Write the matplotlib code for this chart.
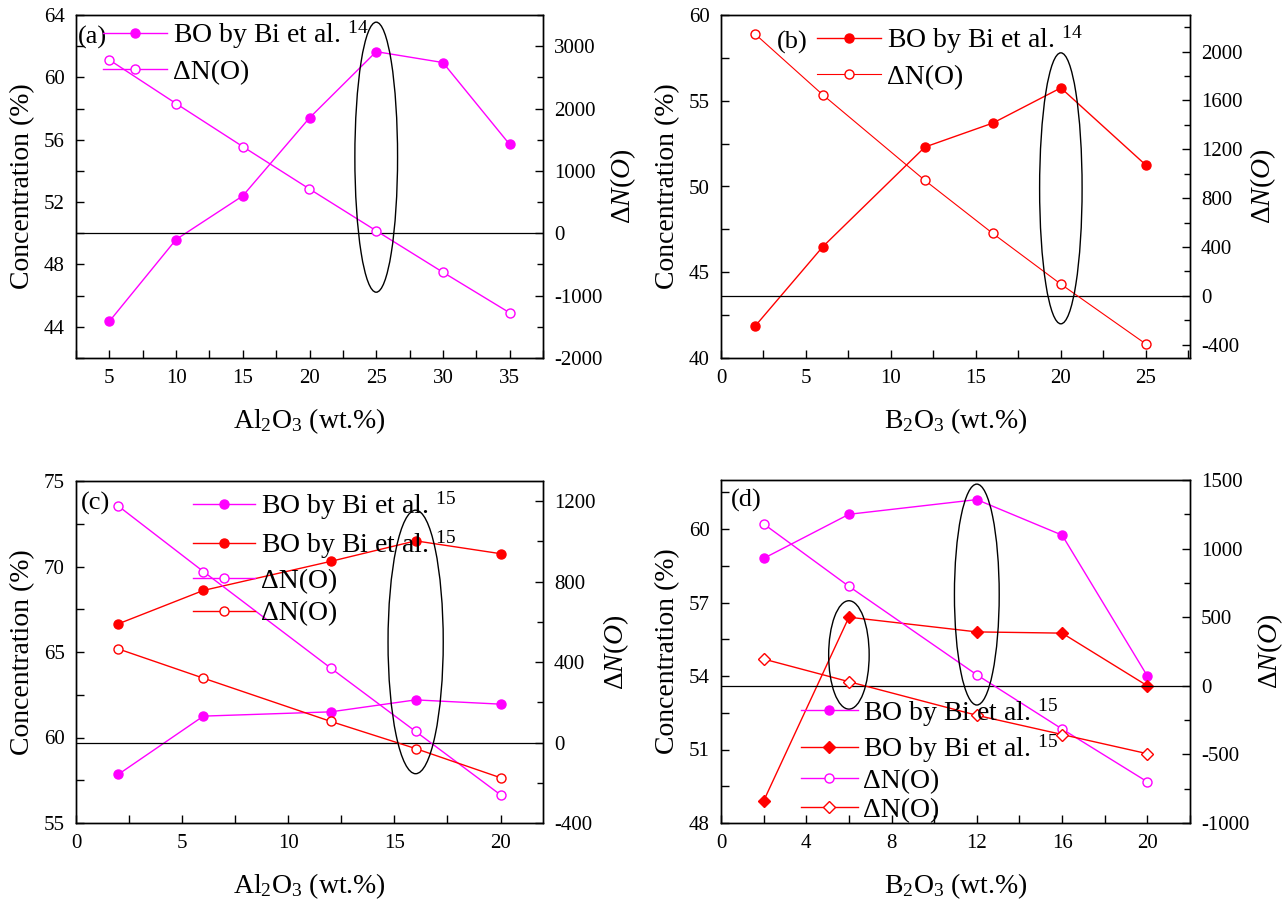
import numpy as np
import matplotlib
matplotlib.use('Agg')
import matplotlib.pyplot as plt
from matplotlib.patches import Ellipse
from matplotlib.ticker import MultipleLocator

plt.rcParams['font.family'] = ['Liberation Serif', 'DejaVu Serif']
plt.rcParams['mathtext.fontset'] = 'custom'
plt.rcParams['mathtext.rm'] = 'Liberation Serif'
plt.rcParams['mathtext.it'] = 'Liberation Serif:italic'
plt.rcParams['axes.unicode_minus'] = False

MAG = '#FF00FF'
RED = '#FF0000'

# (a) Al2O3 series, ref 14
a_x = [5, 10, 15, 20, 25, 30, 35]
a_bo = [44.35, 49.6, 52.4, 57.4, 61.65, 60.95, 55.7]
a_dn = [2780, 2080, 1390, 710, 40, -625, -1275]

# (b) B2O3 series, ref 14
b_x = [2, 6, 12, 16, 20, 25]
b_bo = [41.85, 46.5, 52.3, 53.7, 55.75, 51.25]
b_dn = [2145, 1645, 945, 510, 95, -395]

# (c) Al2O3 series, ref 15
c_x = [2, 6, 12, 16, 20]
c_bo_m = [57.85, 61.25, 61.5, 62.2, 61.95]
c_bo_r = [66.65, 68.6, 70.3, 71.5, 70.75]
c_dn_m = [1175, 850, 370, 55, -260]
c_dn_r = [465, 320, 105, -30, -175]

# (d) B2O3 series, ref 15
d_x = [2, 6, 12, 16, 20]
d_bo_m = [58.8, 60.6, 61.2, 59.75, 54.0]
d_bo_r = [48.9, 56.4, 55.8, 55.75, 53.6]
d_dn_m = [1180, 725, 80, -315, -700]
d_dn_r = [195, 30, -215, -355, -495]

# ellipses: (x centre, dN centre, x width, dN height)
a_ell = [(25, 1220, 3.2, 4330)]
b_ell = [(20, 880, 2.5, 2220)]
c_ell = [(16, 500, 2.6, 1310)]
d_ell = [(6, 225, 1.9, 790), (12, 665, 2.1, 1610)]

FS_TICK = 15
FS_LAB = 20

fig = plt.figure(figsize=(12.88, 9.02), dpi=100)
W, H = 1288, 902


def make_axes(x0, y0, x1, y1):
    ax = fig.add_axes([x0 / W, 1 - y1 / H, (x1 - x0) / W, (y1 - y0) / H])
    ax2 = ax.twinx()
    for a in (ax, ax2):
        for s in a.spines.values():
            s.set_linewidth(1.0)
    ax.tick_params(axis='both', which='both', direction='in', length=6, width=1,
                   labelsize=FS_TICK, pad=8, top=False, right=False)
    ax2.tick_params(axis='y', which='both', direction='in', length=6, width=1,
                    labelsize=FS_TICK, pad=8)
    ax2.tick_params(axis='y', which='minor', length=4)
    ax.set_ylabel('Concentration (%)', fontsize=FS_LAB, labelpad=6)
    ax2.set_ylabel(r'$\Delta N(O)$', fontsize=FS_LAB, labelpad=4)
    return ax, ax2


def finish(ax, ax2, ells, label, lab_xy):
    ax2.axhline(0, color='black', lw=0.9, zorder=1)
    for cx, cy, w, h in ells:
        ax2.add_patch(Ellipse((cx, cy), w, h, fill=False, ec='black', lw=1.0, zorder=5))
    ax.text(lab_xy[0], lab_xy[1], label, transform=ax.transAxes, fontsize=19,
            va='center', ha='left')


def legend(ax, handles, labels, anchor, spacing, hl):
    ax.legend(handles, labels, loc='upper left', bbox_to_anchor=anchor, frameon=False,
              fontsize=FS_LAB, handlelength=hl, handletextpad=0.2, borderpad=0,
              borderaxespad=0, labelspacing=spacing, numpoints=1)


mk = dict(ms=6.5, lw=1.0)

# ---- (a)
ax, ax2 = make_axes(76, 15, 543, 358)
l1, = ax.plot(a_x, a_bo, '-o', color=MAG, mfc=MAG, mec=MAG, **mk)
l2, = ax2.plot(a_x, a_dn, '-o', color=MAG, mfc='white', mec=MAG, **mk)
ax.set_xlim(2.5, 37.5)
ax.set_ylim(42, 64)
ax2.set_ylim(-2000, 3500)
ax.xaxis.set_major_locator(MultipleLocator(5))
ax.xaxis.set_minor_locator(MultipleLocator(2.5))
ax.yaxis.set_major_locator(MultipleLocator(4))
ax.yaxis.set_minor_locator(MultipleLocator(2))
ax2.yaxis.set_major_locator(MultipleLocator(1000))
ax2.yaxis.set_minor_locator(MultipleLocator(500))
ax.set_xlabel(r'Al$_2$O$_3$ (wt.%)', fontsize=FS_LAB, labelpad=13)
finish(ax, ax2, a_ell, '(a)', (0.005, 0.935))
legend(ax2, [l1, l2], [r'BO by Bi et al. $^{14}$', 'ΔN(O)'], (0.058, 0.99), 0.3, 2.3)

# ---- (b)
ax, ax2 = make_axes(721, 15, 1190, 358)
l1, = ax.plot(b_x, b_bo, '-o', color=RED, mfc=RED, mec=RED, **mk)
l2, = ax2.plot(b_x, b_dn, '-o', color=RED, mfc='white', mec=RED, lw=0.8, ms=6.5)
ax.set_xlim(0, 27.6)
ax.set_ylim(40, 60)
ax2.set_ylim(-510, 2300)
ax.xaxis.set_major_locator(MultipleLocator(5))
ax.xaxis.set_minor_locator(MultipleLocator(2.5))
ax.yaxis.set_major_locator(MultipleLocator(5))
ax.yaxis.set_minor_locator(MultipleLocator(2.5))
ax2.yaxis.set_major_locator(MultipleLocator(400))
ax2.yaxis.set_minor_locator(MultipleLocator(200))
ax.set_xlabel(r'B$_2$O$_3$ (wt.%)', fontsize=FS_LAB, labelpad=13)
finish(ax, ax2, b_ell, '(b)', (0.12, 0.92))
legend(ax2, [l1, l2], [r'BO by Bi et al. $^{14}$', 'ΔN(O)'], (0.205, 0.975), 0.3, 2.3)

# ---- (c)
ax, ax2 = make_axes(76, 481, 543, 823)
l1, = ax.plot(c_x, c_bo_m, '-o', color=MAG, mfc=MAG, mec=MAG, **mk)
l2, = ax.plot(c_x, c_bo_r, '-o', color=RED, mfc=RED, mec=RED, **mk)
l3, = ax2.plot(c_x, c_dn_m, '-o', color=MAG, mfc='white', mec=MAG, **mk)
l4, = ax2.plot(c_x, c_dn_r, '-o', color=RED, mfc='white', mec=RED, **mk)
ax.set_xlim(0, 22)
ax.set_ylim(55, 75)
ax2.set_ylim(-400, 1300)
ax.xaxis.set_major_locator(MultipleLocator(5))
ax.xaxis.set_minor_locator(MultipleLocator(2.5))
ax.yaxis.set_major_locator(MultipleLocator(5))
ax.yaxis.set_minor_locator(MultipleLocator(2.5))
ax2.yaxis.set_major_locator(MultipleLocator(400))
ax2.yaxis.set_minor_locator(MultipleLocator(200))
ax.set_xlabel(r'Al$_2$O$_3$ (wt.%)', fontsize=FS_LAB, labelpad=13)
finish(ax, ax2, c_ell, '(c)', (0.01, 0.935))
legend(ax2, [l1, l2, l3, l4],
       [r'BO by Bi et al. $^{15}$', r'BO by Bi et al. $^{15}$', 'ΔN(O)', 'ΔN(O)'],
       (0.25, 0.975), 0.25, 2.25)

# ---- (d)
ax, ax2 = make_axes(721, 480, 1190, 823)
l1, = ax.plot(d_x, d_bo_m, '-o', color=MAG, mfc=MAG, mec=MAG, **mk)
l2, = ax.plot(d_x, d_bo_r, '-D', color=RED, mfc=RED, mec=RED, lw=1.0, ms=6)
l3, = ax2.plot(d_x, d_dn_m, '-o', color=MAG, mfc='white', mec=MAG, **mk)
l4, = ax2.plot(d_x, d_dn_r, '-D', color=RED, mfc='white', mec=RED, lw=1.0, ms=6)
ax.set_xlim(0, 22)
ax.set_ylim(48, 62)
ax2.set_ylim(-1000, 1500)
ax.xaxis.set_major_locator(MultipleLocator(4))
ax.xaxis.set_minor_locator(MultipleLocator(2))
ax.yaxis.set_major_locator(MultipleLocator(3))
ax.yaxis.set_minor_locator(MultipleLocator(1.5))
ax2.yaxis.set_major_locator(MultipleLocator(500))
ax2.yaxis.set_minor_locator(MultipleLocator(250))
ax.set_xlabel(r'B$_2$O$_3$ (wt.%)', fontsize=FS_LAB, labelpad=13)
finish(ax, ax2, d_ell, '(d)', (0.02, 0.94))
legend(ax2, [l1, l2, l3, l4],
       [r'BO by Bi et al. $^{15}$', r'BO by Bi et al. $^{15}$', 'ΔN(O)', 'ΔN(O)'],
       (0.17, 0.37), 0.13, 2.05)

fig.savefig('out.png', dpi=100)
